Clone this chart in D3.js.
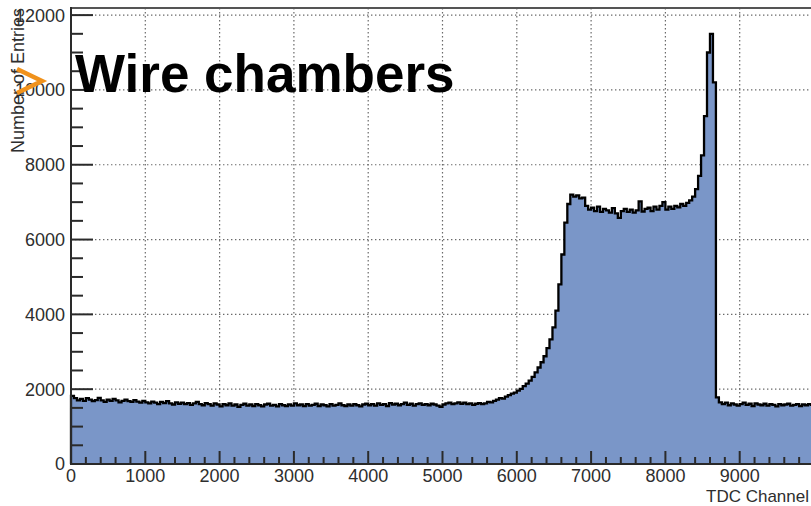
<!DOCTYPE html>
<html>
<head>
<meta charset="utf-8">
<script src="https://cdn.jsdelivr.net/npm/d3@7"></script>
<style>
  html, body { margin: 0; padding: 0; background: #fff; overflow: hidden; }
  svg { display: block; font-family: "Liberation Sans", Arial, sans-serif; }
</style>
</head>
<body>
<svg id="chart" width="811" height="506"></svg>
<script>
// ---- data ----
const title = "Wire chambers";
const xTitle = "TDC Channel";
const yTitle = "Number of Entries";
const xRange = [0, 10000];
const yRange = [0, 12190];
const binWidth = 40;
const xTickValues = [0, 1000, 2000, 3000, 4000, 5000, 6000, 7000, 8000, 9000];
const yTickValues = [0, 2000, 4000, 6000, 8000, 10000, 12000];
const xMinorStep = 200;
const yMinorStep = 500;
// entries per 40-channel bin, channels 0..10000
const counts = [
  1820, 1760, 1700, 1740, 1690, 1760, 1720, 1680, 1710, 1770, 1700, 1660, 1720, 1690, 1740, 1700, 1650, 1690, 1720, 1680, 1660, 1710, 1670, 1640, 1690,
  1650, 1620, 1670, 1640, 1600, 1660, 1630, 1680, 1620, 1590, 1650, 1610, 1640, 1600, 1630, 1580, 1620, 1660, 1600, 1570, 1630, 1600, 1560, 1620, 1590,
  1540, 1600, 1570, 1620, 1560, 1590, 1530, 1580, 1610, 1560, 1590, 1550, 1600, 1570, 1540, 1590, 1610, 1560, 1580, 1540, 1600, 1570, 1550, 1590, 1560,
  1620, 1570, 1590, 1550, 1600, 1560, 1580, 1610, 1550, 1590, 1570, 1540, 1600, 1560, 1580, 1620, 1570, 1550, 1590, 1560, 1600, 1570, 1540, 1590, 1610,
  1570, 1600, 1560, 1620, 1580, 1600, 1550, 1630, 1590, 1610, 1570, 1600, 1640, 1580, 1610, 1560, 1600, 1620, 1580, 1600, 1570, 1610, 1590, 1560, 1530,
  1590, 1620, 1640, 1600, 1620, 1650, 1610, 1640, 1600, 1620, 1580, 1610, 1630, 1600, 1620, 1660, 1650, 1690, 1720, 1760, 1750, 1800, 1840, 1880, 1910,
  1960, 2010, 2080, 2150, 2230, 2330, 2450, 2580, 2720, 2880, 3100, 3330, 3650, 4100, 4800, 5600, 6450, 6950, 7200, 7150, 7180, 7100, 7120, 6900, 6800,
  6850, 6760, 6880, 6740, 6820, 6780, 6720, 6840, 6700, 6580, 6760, 6820, 6740, 6800, 6720, 6780, 7020, 6750, 6820, 6850, 6760, 6880, 6800, 6900, 7000,
  6800, 6880, 6820, 6900, 6860, 6950, 6900, 6980, 7050, 7150, 7350, 7700, 8250, 9300, 11000, 11500, 10200, 1780, 1650, 1600, 1640, 1570, 1620, 1590, 1560,
  1600, 1640, 1580, 1610, 1550, 1620, 1590, 1570, 1610, 1560, 1600, 1580, 1540, 1600, 1570, 1590, 1610, 1560, 1580, 1600, 1550, 1590, 1570, 1600, 1580
];

// ---- layout ----
const svg = d3.select("#chart");
const padL = 71, padR = 814, padT = 8, padB = 464;

const x = d3.scaleLinear().domain(xRange).range([padL, padR]);
const y = d3.scaleLinear().domain(yRange).range([padB, padT]);

const bins = counts.map((c, i) => ({ x0: xRange[0] + i * binWidth, v: c }));
const stepPts = bins.concat([{ x0: xRange[0] + counts.length * binWidth, v: counts[counts.length - 1] }]);

// grid (behind histogram)
const grid = svg.append("g").attr("stroke", "#6a6a6a").attr("stroke-width", 1.2)
  .attr("stroke-dasharray", "1.4,2.6").attr("fill", "none");
xTickValues.filter(v => v > 0).forEach(v => {
  grid.append("line").attr("x1", x(v)).attr("x2", x(v)).attr("y1", padT).attr("y2", padB);
});
yTickValues.filter(v => v > 0).forEach(v => {
  grid.append("line").attr("x1", padL).attr("x2", 811).attr("y1", y(v)).attr("y2", y(v));
});

// histogram fill + outline
const area = d3.area().curve(d3.curveStepAfter)
  .x(d => x(d.x0)).y0(y(0)).y1(d => y(d.v));
svg.append("path").datum(stepPts).attr("d", area).attr("fill", "#7a96c8");

const line = d3.line().curve(d3.curveStepAfter).x(d => x(d.x0)).y(d => y(d.v));
svg.append("path").datum([{ x0: xRange[0], v: 0 }].concat(stepPts)).attr("d", line)
  .attr("fill", "none").attr("stroke", "#000").attr("stroke-width", 2.3).attr("stroke-linejoin", "miter");

// frame top line
svg.append("line").attr("x1", padL).attr("x2", 811).attr("y1", padT).attr("y2", padT)
  .attr("stroke", "#555").attr("stroke-width", 2);

// y axis
const yAxis = svg.append("g").attr("stroke", "#2a2a2a").attr("stroke-width", 2);
d3.range(0, yRange[1] + 1, yMinorStep).forEach(v => {
  const major = yTickValues.includes(v);
  yAxis.append("line").attr("x1", padL).attr("x2", padL + (major ? 22 : 12))
    .attr("y1", y(v)).attr("y2", y(v));
});
yAxis.append("line").attr("x1", padL).attr("x2", padL).attr("y1", padT - 1).attr("y2", padB + 1);

svg.append("g").selectAll("text").data(yTickValues).join("text")
  .attr("x", padL - 6).attr("y", d => y(d)).attr("dy", "0.36em")
  .attr("text-anchor", "end").attr("font-size", 18).attr("fill", "#2e2e2e")
  .text(d => d);

// x axis
const xAxis = svg.append("g").attr("stroke", "#2a2a2a").attr("stroke-width", 2);
d3.range(0, xRange[1] + 1, xMinorStep).forEach(v => {
  const major = v % 1000 === 0;
  xAxis.append("line").attr("x1", x(v)).attr("x2", x(v))
    .attr("y1", padB).attr("y2", padB - (major ? 13 : 7));
});
xAxis.append("line").attr("x1", padL - 1).attr("x2", 811).attr("y1", padB).attr("y2", padB);

svg.append("g").selectAll("text").data(xTickValues).join("text")
  .attr("x", d => x(d)).attr("y", 482)
  .attr("text-anchor", "middle").attr("font-size", 18).attr("fill", "#2e2e2e")
  .text(d => d);

// axis titles
svg.append("text").attr("x", 809).attr("y", 502).attr("text-anchor", "end")
  .attr("font-size", 17).attr("fill", "#2e2e2e")
  .text(xTitle);
svg.append("text").attr("transform", "translate(24,8) rotate(-90)")
  .attr("text-anchor", "end").attr("font-size", 18).attr("fill", "#2e2e2e")
  .text(yTitle);

// orange bullet + title
svg.append("path").attr("d", "M17,69 L42,81 L17,93").attr("fill", "none")
  .attr("stroke", "#f0921c").attr("stroke-width", 4.5).attr("stroke-linejoin", "miter");
svg.append("text").attr("x", 75).attr("y", 92).attr("font-size", 53).attr("font-weight", "bold")
  .attr("fill", "#000").text(title);
</script>
</body>
</html>
